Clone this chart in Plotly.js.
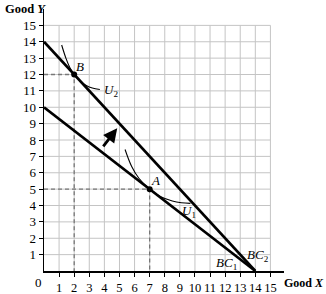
<!DOCTYPE html>
<html>
<head>
<meta charset="utf-8">
<script src="https://cdn.plot.ly/plotly-3.0.1.min.js"></script>
<style>html,body{margin:0;padding:0;background:#fff;}#chart{width:326px;height:294px;}</style>
</head>
<body>
<div id="chart"></div>
<script>
// Budget lines
var bc1X = [0, 14], bc1Y = [10, 0];
var bc2X = [0, 14], bc2Y = [14, 0];
// Indifference curves
var u1X = [5.37, 5.8, 6.3, 7.0, 7.7, 8.5, 9.1, 9.7];
var u1Y = [7.42, 6.4, 5.65, 5.0, 4.55, 4.28, 4.17, 4.13];
var u2X = [1.17, 1.45, 1.7, 2.0, 2.4, 2.8, 3.2, 3.7];
var u2Y = [13.8, 13.0, 12.45, 12.0, 11.6, 11.33, 11.17, 11.08];
// Points of tangency
var ptNames = ["A", "B"];
var ptX = [7, 2];
var ptY = [5, 12];
// Ticks
var tickVals = [1,2,3,4,5,6,7,8,9,10,11,12,13,14,15];

var serif = "Liberation Serif, Times New Roman, serif";
var traces = [];
// grid
tickVals.forEach(function(v){
  traces.push({x:[v,v], y:[0,15], mode:"lines", line:{color:"#c4c4c4", width:1}, hoverinfo:"skip", showlegend:false});
  traces.push({x:[0,15], y:[v,v], mode:"lines", line:{color:"#c4c4c4", width:1}, hoverinfo:"skip", showlegend:false});
});
// dashed guides
for (var i = 0; i < ptX.length; i++) {
  traces.push({x:[0, ptX[i], ptX[i]], y:[ptY[i], ptY[i], 0], mode:"lines",
    line:{color:"#777", width:1.3, dash:"4px,3px"}, showlegend:false, hoverinfo:"skip"});
}
traces.push({x:bc1X, y:bc1Y, mode:"lines", line:{color:"#000", width:2.6}, showlegend:false});
traces.push({x:bc2X, y:bc2Y, mode:"lines", line:{color:"#000", width:2.6}, showlegend:false});
traces.push({x:u1X, y:u1Y, mode:"lines", line:{color:"#000", width:1.1, shape:"spline"}, showlegend:false});
traces.push({x:u2X, y:u2Y, mode:"lines", line:{color:"#000", width:1.1, shape:"spline"}, showlegend:false});
traces.push({x:ptX, y:ptY, mode:"markers", marker:{color:"#000", size:6}, showlegend:false});

function lab(x, y, t, xa) {
  return {x:x, y:y, xref:"x", yref:"y", text:t, showarrow:false, xanchor:xa||"center",
    font:{family:serif, size:13, color:"#000"}};
}
var annotations = [
  lab(ptX[0]+0.4, ptY[0]+0.5, "<i>" + ptNames[0] + "</i>"),
  lab(ptX[1]+0.4, ptY[1]+0.5, "<i>" + ptNames[1] + "</i>"),
  lab(4.45, 11.0, "<i>U</i><sub>2</sub>"),
  lab(9.6, 3.65, "<i>U</i><sub>1</sub>"),
  lab(12.1, 0.45, "<i>BC</i><sub>1</sub>"),
  lab(14.2, 0.95, "<i>BC</i><sub>2</sub>"),
  {x:4.85, y:8.72, ax:3.85, ay:7.52, xref:"x", yref:"y", axref:"x", ayref:"y", text:"",
   showarrow:true, arrowhead:2, arrowsize:1, arrowwidth:2.8, arrowcolor:"#000"},
  {x:0, y:0, xref:"paper", yref:"paper", text:"0", showarrow:false, xanchor:"center", yanchor:"middle",
   xshift:-6, yshift:-11, font:{family:serif, size:13, color:"#000"}},
  {x:0, y:1, xref:"paper", yref:"paper", text:"<b>Good <i>Y</i></b>", showarrow:false,
   xanchor:"center", yanchor:"bottom", yshift:-9, xshift:-19, font:{family:serif, size:12.5, color:"#000"}},
  {x:1, y:0, xref:"paper", yref:"paper", text:"<b>Good <i>X</i></b>", showarrow:false,
   xanchor:"right", yanchor:"top", xshift:42, yshift:-3, font:{family:serif, size:12, color:"#000"}}
];

var layout = {
  width:326, height:294,
  margin:{l:44, r:42, t:9, b:23},
  paper_bgcolor:"#fff", plot_bgcolor:"#fff",
  showlegend:false,
  xaxis:{range:[0,15.9], tickvals:tickVals, tickangle:0, showgrid:false, zeroline:false,
    showline:true, linecolor:"#000", linewidth:1.5, ticks:"outside", ticklen:4, tickcolor:"#000",
    tickfont:{family:serif, size:12.5, color:"#000"}, fixedrange:true},
  yaxis:{range:[0,16], tickvals:tickVals, showgrid:false, zeroline:false,
    showline:true, linecolor:"#000", linewidth:1.5, ticks:"outside", ticklen:4, tickcolor:"#000",
    tickfont:{family:serif, size:13, color:"#000"}, fixedrange:true},
  annotations:annotations
};
Plotly.newPlot("chart", traces, layout, {displayModeBar:false, staticPlot:true});
</script>
</body>
</html>
